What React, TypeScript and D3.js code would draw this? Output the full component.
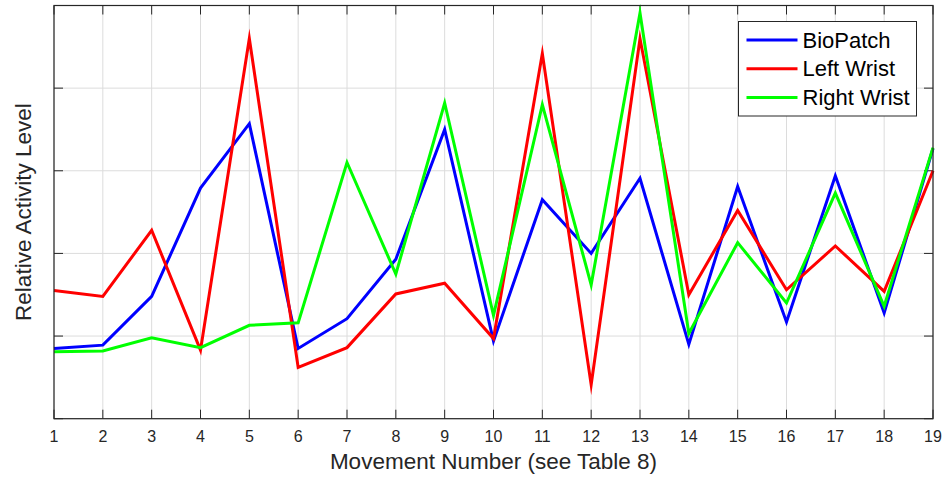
import React from "react";
import * as d3 from "d3";

const movements = d3.range(1, 20);
const bioPatch = [0.85, 0.89, 1.48, 2.79, 3.57, 0.85, 1.21, 1.93, 3.5, 0.94, 2.65, 2.0, 2.91, 0.9, 2.81, 1.17, 2.94, 1.28, 3.27];
const leftWrist = [1.55, 1.48, 2.28, 0.83, 4.6, 0.62, 0.86, 1.51, 1.64, 0.97, 4.42, 0.41, 4.6, 1.5, 2.52, 1.56, 2.09, 1.54, 3.0];
const rightWrist = [0.81, 0.82, 0.98, 0.86, 1.13, 1.16, 3.1, 1.75, 3.82, 1.25, 3.8, 1.62, 4.91, 1.03, 2.13, 1.4, 2.73, 1.36, 3.28];
const seriesNames = ["BioPatch", "Left Wrist", "Right Wrist"];
const seriesColors = ["#0000ff", "#ff0000", "#00ff00"];
const yTicks = [0, 1, 2, 3, 4, 5];

const W = 946;
const H = 481;
const M = { left: 54, right: 946 - 933, top: 5.5, bottom: 481 - 418.7 };
const FONT = "'Liberation Sans', Arial, Helvetica, sans-serif";
const AX = "#262626";

export default function App() {
  const x = d3.scaleLinear().domain([1, 19]).range([M.left, W - M.right]);
  const y = d3.scaleLinear().domain([0, 5]).range([H - M.bottom, M.top]);
  const line = d3
    .line<number>()
    .x((_, i) => x(movements[i]))
    .y((d) => y(d));
  const all = [bioPatch, leftWrist, rightWrist];
  const x0 = x.range()[0], x1 = x.range()[1];
  const y0 = y.range()[0], y1 = y.range()[1];
  const tl = 9;
  const lg = { x: 738.5, y: 21.5, w: 178, h: 94.5 };
  return (
    <svg width={W} height={H} style={{ position: "absolute", left: 0, top: 0, background: "#fff" }}>
      <rect x={0} y={0} width={W} height={H} fill="#fff" />
      {/* grid */}
      {movements.map((m) => (
        <line key={"gx" + m} x1={x(m)} x2={x(m)} y1={y0} y2={y1} stroke="#dcdcdc" strokeWidth={1} />
      ))}
      {yTicks.map((t) => (
        <line key={"gy" + t} x1={x0} x2={x1} y1={y(t)} y2={y(t)} stroke="#dcdcdc" strokeWidth={1} />
      ))}
      {/* ticks */}
      {movements.map((m) => (
        <g key={"tx" + m}>
          <line x1={x(m)} x2={x(m)} y1={y0} y2={y0 - tl} stroke={AX} strokeWidth={1} />
          <line x1={x(m)} x2={x(m)} y1={y1} y2={y1 + tl} stroke={AX} strokeWidth={1} />
          <text x={x(m)} y={441.5} textAnchor="middle" fontFamily={FONT} fontSize={16} fill={AX}>
            {m}
          </text>
        </g>
      ))}
      {yTicks.map((t) => (
        <g key={"ty" + t}>
          <line x1={x0} x2={x0 + tl} y1={y(t)} y2={y(t)} stroke={AX} strokeWidth={1} />
          <line x1={x1} x2={x1 - tl} y1={y(t)} y2={y(t)} stroke={AX} strokeWidth={1} />
        </g>
      ))}
      {/* series */}
      {all.map((s, i) => (
        <path key={"s" + i} d={line(s) || ""} fill="none" stroke={seriesColors[i]} strokeWidth={3} strokeLinejoin="miter" strokeMiterlimit={10} />
      ))}
      {/* box */}
      <rect x={x0} y={y1} width={x1 - x0} height={y0 - y1} fill="none" stroke={AX} strokeWidth={1.2} />
      {/* labels */}
      <text x={(x0 + x1) / 2} y={468.5} textAnchor="middle" fontFamily={FONT} fontSize={22.5} fill={AX}>
        Movement Number (see Table 8)
      </text>
      <text
        transform={`translate(30.5,${(y0 + y1) / 2}) rotate(-90)`}
        textAnchor="middle"
        fontFamily={FONT}
        fontSize={22.5}
        fill={AX}
      >
        Relative Activity Level
      </text>
      {/* legend */}
      <rect x={lg.x} y={lg.y} width={lg.w} height={lg.h} fill="#fff" stroke={AX} strokeWidth={1} />
      {seriesNames.map((n, i) => {
        const ry = 40 + i * 28.8;
        return (
          <g key={"lg" + i}>
            <line x1={746.5} x2={797.5} y1={ry} y2={ry} stroke={seriesColors[i]} strokeWidth={3} />
            <text x={802.5} y={ry + 7.5} fontFamily={FONT} fontSize={22} fill="#000">
              {n}
            </text>
          </g>
        );
      })}
    </svg>
  );
}
